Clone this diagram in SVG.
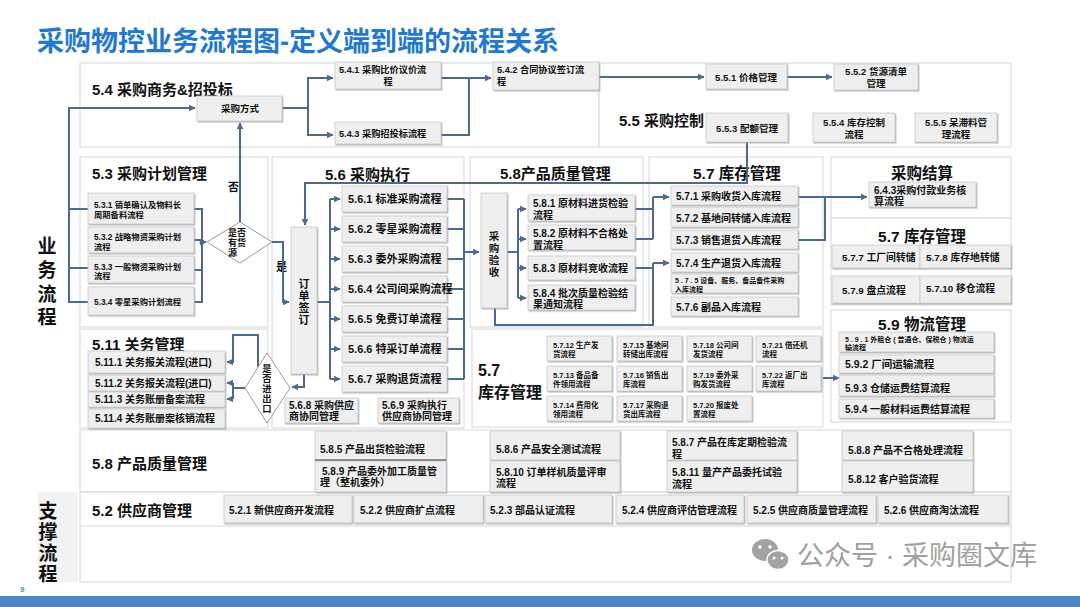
<svg xmlns="http://www.w3.org/2000/svg" width="1080" height="607" viewBox="0 0 1080 607">
<defs>
<style>
.t{font-family:"Liberation Sans","Noto Sans CJK SC",sans-serif;font-weight:bold;fill:#111;dominant-baseline:central}
.m{text-anchor:middle}
.sec{fill:#fff;stroke:#d6d6d6;stroke-width:1}
.b{fill:#efefef;stroke:#c9c9c9;stroke-width:0.8;filter:url(#sh)}
.c{fill:none;stroke:#4a6a93;stroke-width:2}
.a{marker-end:url(#arr)}
.d{fill:#fff;stroke:#9a9a9a;stroke-width:1}
</style>
<filter id="sh" x="-10%" y="-10%" width="130%" height="140%">
<feDropShadow dx="1" dy="1.2" stdDeviation="0.6" flood-color="#8a8a8a" flood-opacity="0.6"/>
</filter>
<marker id="arr" viewBox="0 0 10 10" refX="9" refY="5" markerWidth="7" markerHeight="7" markerUnits="userSpaceOnUse" orient="auto">
<path d="M0 0L10 5L0 10z" fill="#4a6a93"/>
</marker>
</defs>
<rect width="1080" height="607" fill="#fff"/>
<text class="t" x="37" y="42" font-size="27" style="fill:#1f78d1">采购物控业务流程图-定义端到端的流程关系</text>

<g id="sections">
<rect class="sec" x="80" y="63" width="519" height="84"/>
<rect class="sec" x="599" y="63" width="412" height="84"/>
<rect class="sec" x="80" y="157" width="188" height="170"/>
<rect class="sec" x="272" y="157" width="192" height="271"/>
<rect class="sec" x="470" y="157" width="173" height="170"/>
<rect class="sec" x="649" y="157" width="174" height="170"/>
<rect class="sec" x="831" y="157" width="180" height="61"/>
<rect class="sec" x="831" y="218" width="180" height="87"/>
<rect class="sec" x="80" y="329" width="188" height="99"/>
<rect class="sec" x="472" y="329" width="351" height="98"/>
<rect class="sec" x="831" y="310" width="180" height="112"/>
<rect class="sec" x="80" y="430" width="931" height="62"/>
<rect class="sec" x="80" y="492" width="931" height="90"/>
<line x1="80" y1="526" x2="1011" y2="526" stroke="#d6d6d6"/>
<rect x="38" y="492" width="40" height="90" fill="#f2f2f2"/>
</g>

<g id="labels">
<text class="t m" font-size="19" x="47"><tspan x="47" y="246">业</tspan><tspan x="47" y="270">务</tspan><tspan x="47" y="294">流</tspan><tspan x="47" y="317">程</tspan></text>
<text class="t m" font-size="19" x="48"><tspan x="48" y="511">支</tspan><tspan x="48" y="532">撑</tspan><tspan x="48" y="553">流</tspan><tspan x="48" y="574">程</tspan></text>
<text class="t" font-size="15" x="92" y="89">5.4 采购商务&amp;招投标</text>
<text class="t" font-size="15" x="619" y="120">5.5 采购控制</text>
<text class="t" font-size="15" x="92" y="173">5.3 采购计划管理</text>
<text class="t" font-size="15" x="325" y="174">5.6 采购执行</text>
<text class="t" font-size="15" x="500" y="173">5.8产品质量管理</text>
<text class="t" font-size="15.5" x="693" y="173">5.7 库存管理</text>
<text class="t m" font-size="15.5" x="922" y="173">采购结算</text>
<text class="t m" font-size="15.5" x="922" y="236">5.7 库存管理</text>
<text class="t" font-size="15" x="92" y="344">5.11 关务管理</text>
<text class="t" font-size="16" x="478" y="370">5.7</text>
<text class="t" font-size="16" x="478" y="392">库存管理</text>
<text class="t m" font-size="15.5" x="922" y="324">5.9 物流管理</text>
<text class="t" font-size="15" x="92" y="463">5.8 产品质量管理</text>
<text class="t" font-size="15" x="92" y="510">5.2 供应商管理</text>
<text class="t" font-size="11" x="228" y="187">否</text>
<text class="t" font-size="11" x="276" y="267">是</text>
</g>

<g id="connectors">
<path class="c a" d="M282 108H308V78H333"/>
<path class="c a" d="M308 108V135H333"/>
<path class="c" d="M441 78H469V135H441"/>
<path class="c a" d="M469 78H491"/>
<path class="c a" d="M599 77H704"/>
<path class="c a" d="M787 77H832"/>
<path class="c a" d="M747 142V183H305V225"/>
<path class="c a" d="M88 302H69V108H195"/>
<path class="c" d="M69 209H88M69 268H88"/>
<path class="c" d="M194 209H202V302H194M194 240H202M194 270H202"/>
<circle cx="202" cy="242" r="2.5" fill="#4a6a93"/>
<path class="c a" d="M202 242H206"/>
<path class="c a" d="M240 222V123"/>
<path class="c a" d="M272 242H283V302H289"/>
<path class="c" d="M317 302H330M330 199V379"/>
<path class="c a" d="M330 199H340"/>
<path class="c a" d="M330 229H340"/>
<path class="c a" d="M330 259H340"/>
<path class="c a" d="M330 289H340"/>
<path class="c a" d="M330 319H340"/>
<path class="c a" d="M330 349H340"/>
<path class="c a" d="M330 379H340"/>
<path class="c" d="M447 199H464M447 229H464M447 259H464M447 289H464M447 319H464M447 349H464M447 379H464M464 199V379"/>
<path class="c a" d="M464 252H479"/>
<path class="c a" d="M304 374V387H292"/>
<path class="c a" d="M258 367V335H233V362H227"/>
<path class="c" d="M245 388H233M233 383V399"/>
<path class="c a" d="M233 383H227"/>
<path class="c a" d="M233 399H227"/>
<path class="c" d="M507 252H518M518 209V298"/>
<path class="c a" d="M518 209H526"/>
<path class="c a" d="M518 239H526"/>
<path class="c a" d="M518 268H526"/>
<path class="c a" d="M518 298H526"/>
<path class="c" d="M635 209H653M635 239H653M653 197V239"/>
<path class="c a" d="M653 197H669"/>
<path class="c" d="M635 268H653M653 263V325H495V308"/>
<path class="c a" d="M653 263H669"/>
<path class="c" d="M798 197H825V240H798"/>
<path class="c a" d="M825 197H867"/>
<path class="c a" d="M823 378H839"/>
</g>

<g id="n-cgfs"><rect class="b" x="197" y="96" width="85" height="25"/><text class="t m" font-size="9.5" x="240" y="108">采购方式</text></g>
<g id="n541"><rect class="b" x="335" y="62" width="106" height="27"/><text class="t" font-size="9.2" x="339" y="70">5.4.1 采购比价议价流</text><text class="t m" font-size="9.2" x="388" y="82">程</text></g>
<g id="n543"><rect class="b" x="335" y="122" width="106" height="22"/><text class="t" font-size="9.2" x="339" y="134">5.4.3 采购招投标流程</text></g>
<g id="n542"><rect class="b" x="493" y="62" width="106" height="28"/><text class="t" font-size="9.2" x="497" y="70">5.4.2 合同协议签订流</text><text class="t" font-size="9.2" x="497" y="82">程</text></g>
<g id="n551"><rect class="b" x="706" y="64" width="81" height="25"/><text class="t m" font-size="9.5" x="746" y="77">5.5.1 价格管理</text></g>
<g id="n552"><rect class="b" x="834" y="64" width="84" height="26"/><text class="t m" font-size="9.5" x="876" y="71">5.5.2 货源清单</text><text class="t m" font-size="9.5" x="876" y="83">管理</text></g>
<g id="n553"><rect class="b" x="706" y="113" width="82" height="29"/><text class="t m" font-size="9.5" x="747" y="128">5.5.3 配额管理</text></g>
<g id="n554"><rect class="b" x="813" y="113" width="82" height="29"/><text class="t m" font-size="9.5" x="854" y="122">5.5.4 库存控制</text><text class="t m" font-size="9.5" x="854" y="134">流程</text></g>
<g id="n555"><rect class="b" x="915" y="113" width="82" height="29"/><text class="t m" font-size="9.5" x="956" y="122">5.5.5 呆滞料管</text><text class="t m" font-size="9.5" x="956" y="134">理流程</text></g>

<g id="n531"><rect class="b" x="88" y="193" width="106" height="31"/><text class="t" font-size="8.3" x="94" y="205">5.3.1 销单确认及物料长</text><text class="t" font-size="8.3" x="94" y="215">周期备料流程</text></g>
<g id="n532"><rect class="b" x="88" y="227" width="106" height="26"/><text class="t" font-size="8.3" x="94" y="237">5.3.2 战略物资采购计划</text><text class="t" font-size="8.3" x="94" y="247">流程</text></g>
<g id="n533"><rect class="b" x="88" y="256" width="106" height="27"/><text class="t" font-size="8.3" x="94" y="267">5.3.3 一般物资采购计划</text><text class="t" font-size="8.3" x="94" y="276">流程</text></g>
<g id="n534"><rect class="b" x="88" y="287" width="106" height="28"/><text class="t" font-size="8.3" x="94" y="302">5.3.4 零星采购计划流程</text></g>
<g id="d-hy"><polygon class="d" points="207,242 240,222 272,242 240,263"/><text class="t" font-size="9"><tspan x="228" y="233">是否</tspan><tspan x="228" y="243">有货</tspan><tspan x="228" y="253">源</tspan></text></g>

<g id="n-ddqd"><rect class="b" x="291" y="227" width="26" height="147"/><text class="t m" font-size="11"><tspan x="304" y="284">订</tspan><tspan x="304" y="296">单</tspan><tspan x="304" y="308">签</tspan><tspan x="304" y="320">订</tspan></text></g>
<g id="n561"><rect class="b" x="342" y="186" width="105" height="26"/><text class="t" font-size="11" x="348" y="199">5.6.1 标准采购流程</text></g>
<g id="n562"><rect class="b" x="342" y="216" width="105" height="26"/><text class="t" font-size="11" x="348" y="229">5.6.2 零星采购流程</text></g>
<g id="n563"><rect class="b" x="342" y="246" width="105" height="26"/><text class="t" font-size="11" x="348" y="259">5.6.3 委外采购流程</text></g>
<g id="n564"><rect class="b" x="342" y="276" width="105" height="26"/><text class="t" font-size="11" x="348" y="289">5.6.4 公司间采购流程</text></g>
<g id="n565"><rect class="b" x="342" y="306" width="105" height="26"/><text class="t" font-size="11" x="348" y="319">5.6.5 免费订单流程</text></g>
<g id="n566"><rect class="b" x="342" y="336" width="105" height="26"/><text class="t" font-size="11" x="348" y="349">5.6.6 特采订单流程</text></g>
<g id="n567"><rect class="b" x="342" y="366" width="105" height="26"/><text class="t" font-size="11" x="348" y="379">5.6.7 采购退货流程</text></g>
<g id="n568"><rect class="b" x="285" y="398" width="73" height="25"/><text class="t" font-size="10" x="289" y="405">5.6.8 采购供应</text><text class="t" font-size="10" x="289" y="416">商协同管理</text></g>
<g id="n569"><rect class="b" x="378" y="398" width="81" height="25"/><text class="t" font-size="10" x="382" y="405">5.6.9 采购执行</text><text class="t" font-size="10" x="382" y="416">供应商协同管理</text></g>

<g id="n-cgys"><rect class="b" x="481" y="193" width="26" height="115"/><text class="t m" font-size="10.5"><tspan x="494" y="236">采</tspan><tspan x="494" y="248">购</tspan><tspan x="494" y="260">验</tspan><tspan x="494" y="272">收</tspan></text></g>
<g id="n581"><rect class="b" x="528" y="195" width="107" height="26"/><text class="t" font-size="10" x="533" y="203">5.8.1 原材料进货检验</text><text class="t" font-size="10" x="533" y="215">流程</text></g>
<g id="n582"><rect class="b" x="528" y="225" width="107" height="25"/><text class="t" font-size="10" x="533" y="233">5.8.2 原材料不合格处</text><text class="t" font-size="10" x="533" y="245">置流程</text></g>
<g id="n583"><rect class="b" x="528" y="256" width="107" height="24"/><text class="t" font-size="10" x="533" y="268">5.8.3 原材料竞收流程</text></g>
<g id="n584"><rect class="b" x="528" y="285" width="107" height="25"/><text class="t" font-size="10" x="533" y="293">5.8.4 批次质量检验结</text><text class="t" font-size="10" x="533" y="304">果通知流程</text></g>

<g id="n571"><rect class="b" x="671" y="186" width="127" height="19"/><text class="t" font-size="10" x="676" y="196">5.7.1 采购收货入库流程</text></g>
<g id="n572"><rect class="b" x="671" y="207" width="127" height="20"/><text class="t" font-size="10" x="676" y="218">5.7.2 基地间转储入库流程</text></g>
<g id="n573"><rect class="b" x="671" y="230" width="127" height="19"/><text class="t" font-size="10" x="676" y="240">5.7.3 销售退货入库流程</text></g>
<g id="n574"><rect class="b" x="671" y="253" width="127" height="19"/><text class="t" font-size="10" x="676" y="263">5.7.4 生产退货入库流程</text></g>
<g id="n575"><rect class="b" x="671" y="274" width="127" height="19"/><text class="t" font-size="7" x="675" y="280">5 . 7 . 5 设备、服务、备品备件采购</text><text class="t" font-size="7" x="675" y="289">入库流程</text></g>
<g id="n576"><rect class="b" x="671" y="297" width="127" height="19"/><text class="t" font-size="10" x="676" y="307">5.7.6 副品入库流程</text></g>

<g id="n643"><rect class="b" x="869" y="182" width="107" height="25"/><text class="t" font-size="10" x="874" y="190">6.4.3采购付款业务核</text><text class="t" font-size="10" x="874" y="201">算流程</text></g>
<g id="n577"><rect class="b" x="832" y="245" width="88" height="23"/><text class="t" font-size="9.8" x="842" y="257">5.7.7 工厂间转储</text></g>
<g id="n578"><rect class="b" x="920" y="245" width="91" height="23"/><text class="t" font-size="9.8" x="926" y="257">5.7.8 库存地转储</text></g>
<g id="n579"><rect class="b" x="832" y="276" width="88" height="27"/><text class="t" font-size="9.8" x="842" y="290">5.7.9 盘点流程</text></g>
<g id="n5710"><rect class="b" x="920" y="276" width="91" height="27"/><text class="t" font-size="9.8" x="926" y="288">5.7.10 移仓流程</text></g>

<g id="n5111"><rect class="b" x="88" y="351" width="137" height="22"/><text class="t" font-size="10" x="95" y="362">5.11.1 关务报关流程(进口)</text></g>
<g id="n5112"><rect class="b" x="88" y="375" width="137" height="16"/><text class="t" font-size="10" x="95" y="383">5.11.2 关务报关流程(进口)</text></g>
<g id="n5113"><rect class="b" x="88" y="392" width="137" height="15"/><text class="t" font-size="10" x="95" y="399">5.11.3 关务账册备案流程</text></g>
<g id="n5114"><rect class="b" x="88" y="409" width="137" height="19"/><text class="t" font-size="10" x="95" y="418">5.11.4 关务账册案核销流程</text></g>
<g id="d-jck"><polygon class="d" points="245,388 267,353 290,388 267,423"/><text class="t m" font-size="9.3"><tspan x="267" y="369">是</tspan><tspan x="267" y="379">否</tspan><tspan x="267" y="389">进</tspan><tspan x="267" y="399">出</tspan><tspan x="267" y="409">口</tspan></text></g>

<g id="grid57">
<g id="n5712"><rect class="b" x="547" y="336" width="65" height="25"/><text class="t" font-size="7.5" x="553" y="345">5.7.12 生产发</text><text class="t" font-size="7.5" x="553" y="354">货流程</text></g>
<g id="n5715"><rect class="b" x="617" y="336" width="65" height="25"/><text class="t" font-size="7.5" x="623" y="345">5.7.15 基地间</text><text class="t" font-size="7.5" x="623" y="354">转储出库流程</text></g>
<g id="n5718"><rect class="b" x="687" y="336" width="65" height="25"/><text class="t" font-size="7.5" x="693" y="345">5.7.18 公司间</text><text class="t" font-size="7.5" x="693" y="354">发货流程</text></g>
<g id="n5721"><rect class="b" x="756" y="336" width="65" height="25"/><text class="t" font-size="7.5" x="762" y="345">5.7.21 借还机</text><text class="t" font-size="7.5" x="762" y="354">流程</text></g>
<g id="n5713"><rect class="b" x="547" y="366" width="65" height="25"/><text class="t" font-size="7.5" x="553" y="375">5.7.13 备品备</text><text class="t" font-size="7.5" x="553" y="384">件领用流程</text></g>
<g id="n5716"><rect class="b" x="617" y="366" width="65" height="25"/><text class="t" font-size="7.5" x="623" y="375">5.7.16 销售出</text><text class="t" font-size="7.5" x="623" y="384">库流程</text></g>
<g id="n5719"><rect class="b" x="687" y="366" width="65" height="25"/><text class="t" font-size="7.5" x="693" y="375">5.7.19 委外采</text><text class="t" font-size="7.5" x="693" y="384">购发货流程</text></g>
<g id="n5722"><rect class="b" x="756" y="366" width="65" height="25"/><text class="t" font-size="7.5" x="762" y="375">5.7.22 返厂出</text><text class="t" font-size="7.5" x="762" y="384">库流程</text></g>
<g id="n5714"><rect class="b" x="547" y="396" width="65" height="25"/><text class="t" font-size="7.5" x="553" y="405">5.7.14 费用化</text><text class="t" font-size="7.5" x="553" y="414">领用流程</text></g>
<g id="n5717"><rect class="b" x="617" y="396" width="65" height="25"/><text class="t" font-size="7.5" x="623" y="405">5.7.17 采购退</text><text class="t" font-size="7.5" x="623" y="414">货出库流程</text></g>
<g id="n5720"><rect class="b" x="687" y="396" width="65" height="25"/><text class="t" font-size="7.5" x="693" y="405">5.7.20 报废处</text><text class="t" font-size="7.5" x="693" y="414">置流程</text></g>
</g>

<g id="n591"><rect class="b" x="839" y="332" width="155" height="20"/><text class="t" font-size="7" x="845" y="339">5 . 9 . 1 外租仓 ( 普通仓、保税仓 ) 物流运</text><text class="t" font-size="7" x="845" y="347">输流程</text></g>
<g id="n592"><rect class="b" x="839" y="355" width="155" height="18"/><text class="t" font-size="10.5" x="845" y="364">5.9.2 厂间运输流程</text></g>
<g id="n593"><rect class="b" x="839" y="375" width="155" height="21"/><text class="t" font-size="10" x="845" y="388">5.9.3 仓储运费结算流程</text></g>
<g id="n594"><rect class="b" x="839" y="399" width="155" height="19"/><text class="t" font-size="10" x="845" y="409">5.9.4 一般材料运费结算流程</text></g>

<g id="n585"><rect class="b" x="315" y="431" width="131" height="29"/><text class="t" font-size="10" x="320" y="449">5.8.5 产品出货检验流程</text></g>
<g id="n589"><rect class="b" x="315" y="461" width="131" height="31"/><text class="t" font-size="10" x="322" y="471">5.8.9 产品委外加工质量管</text><text class="t" font-size="10" x="320" y="482">理（整机委外）</text></g>
<line x1="315" y1="460" x2="446" y2="460" stroke="#8c8c8c" stroke-width="2"/>
<g id="n586"><rect class="b" x="490" y="431" width="130" height="29"/><text class="t" font-size="10" x="496" y="449">5.8.6 产品安全测试流程</text></g>
<g id="n5810"><rect class="b" x="490" y="461" width="130" height="31"/><text class="t" font-size="10" x="496" y="472">5.8.10 订单样机质量评审</text><text class="t" font-size="10" x="496" y="483">流程</text></g>
<g id="n587"><rect class="b" x="667" y="431" width="130" height="29"/><text class="t" font-size="10" x="672" y="442">5.8.7 产品在库定期检验流</text><text class="t" font-size="10" x="672" y="454">程</text></g>
<g id="n5811"><rect class="b" x="667" y="461" width="130" height="31"/><text class="t" font-size="10" x="672" y="472">5.8.11 量产产品委托试验</text><text class="t" font-size="10" x="672" y="484">流程</text></g>
<g id="n588"><rect class="b" x="842" y="431" width="131" height="29"/><text class="t" font-size="10" x="848" y="450">5.8.8 产品不合格处理流程</text></g>
<g id="n5812"><rect class="b" x="842" y="461" width="131" height="31"/><text class="t" font-size="10" x="848" y="479">5.8.12 客户验货流程</text></g>

<g id="n521"><rect class="b" x="224" y="495" width="128" height="28"/><text class="t" font-size="10" x="229" y="510">5.2.1 新供应商开发流程</text></g>
<g id="n522"><rect class="b" x="354" y="495" width="129" height="28"/><text class="t" font-size="10" x="360" y="510">5.2.2 供应商扩点流程</text></g>
<g id="n523"><rect class="b" x="485" y="495" width="127" height="28"/><text class="t" font-size="10" x="490" y="510">5.2.3 部品认证流程</text></g>
<g id="n524"><rect class="b" x="616" y="495" width="128" height="28"/><text class="t" font-size="10" x="622" y="510">5.2.4 供应商评估管理流程</text></g>
<g id="n525"><rect class="b" x="747" y="495" width="129" height="28"/><text class="t" font-size="10" x="753" y="510">5.2.5 供应商质量管理流程</text></g>
<g id="n526"><rect class="b" x="878" y="495" width="130" height="28"/><text class="t" font-size="10" x="884" y="510">5.2.6 供应商淘汰流程</text></g>

<g id="watermark">
<ellipse cx="765" cy="550" rx="13" ry="11" fill="#a3a3a3"/>
<ellipse cx="778" cy="560" rx="11" ry="9.5" fill="#a3a3a3" stroke="#fff" stroke-width="1.5"/>
<circle cx="760" cy="547" r="1.8" fill="#fff"/><circle cx="770" cy="547" r="1.8" fill="#fff"/>
<circle cx="774" cy="558" r="1.5" fill="#fff"/><circle cx="782" cy="558" r="1.5" fill="#fff"/>
<text x="797" y="556" font-family="'Liberation Sans','Noto Sans CJK SC',sans-serif" font-size="27" fill="#a0a0a0" dominant-baseline="central">公众号 · 采购圈文库</text>
</g>

<rect x="0" y="596" width="1080" height="11" fill="#4a86c8"/>
<text x="20" y="592" font-family="'Liberation Sans',sans-serif" font-size="8" fill="#5b86c0" font-weight="bold">9</text>
</svg>
